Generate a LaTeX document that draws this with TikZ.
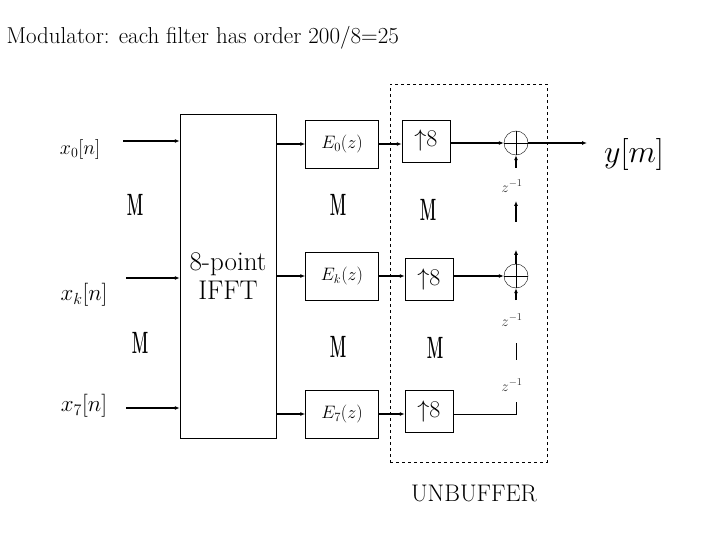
\RequirePackage{fix-cm}
\documentclass[tikz,border=0pt]{standalone}
\usepackage{tikz}
\usetikzlibrary{arrows.meta}
\begin{document}
\begin{tikzpicture}[x=1pt,y=-1pt,
  arr/.style={-{Latex[length=5pt,width=4pt]},line width=1.2pt},
  blk/.style={draw,line width=0.5pt,inner sep=0pt},
  dots/.style={font=\fontsize{22}{22}\selectfont\bfseries,yscale=1.4,xscale=0.7},
  zl/.style={font=\fontsize{15}{15}\selectfont,text=black!80}]
\useasboundingbox (0,0) rectangle (720,540);
\node[anchor=west,font=\fontsize{23}{23}\selectfont] (title) at (3,38) {Modulator: each filter has order 200/8=25};
% IFFT
\node[blk,minimum width=96pt,minimum height=324pt,align=center,font=\fontsize{27}{29}\selectfont] (fft) at (228,276) {8-point\\IFFT};
% inputs
\node[font=\fontsize{20}{20}\selectfont] (x0) at (80,150) {$x_0[n]$};
\node[font=\fontsize{23}{23}\selectfont] (xk) at (84,295) {$x_k[n]$};
\node[font=\fontsize{23}{23}\selectfont] (x7) at (84,406) {$x_7[n]$};
\coordinate (a0) at (123,141); \coordinate (ak) at (126,278); \coordinate (a7) at (126,408);
\draw[arr] (a0) -- (fft.west |- a0);
\draw[arr] (ak) -- (fft.west |- ak);
\draw[arr] (a7) -- (fft.west |- a7);
% polyphase filters
\node[blk,minimum width=73pt,minimum height=48pt,font=\fontsize{18}{18}\selectfont] (e0) at (342,144) {$E_0(z)$};
\node[blk,minimum width=73pt,minimum height=48pt,font=\fontsize{18}{18}\selectfont] (ek) at (342,276) {$E_k(z)$};
\node[blk,minimum width=73pt,minimum height=48pt,font=\fontsize{18}{18}\selectfont] (e7) at (342,414) {$E_7(z)$};
\draw[arr] (fft.east |- e0) -- (e0);
\draw[arr] (fft.east |- ek) -- (ek);
\draw[arr] (fft.east |- e7) -- (e7);
% unbuffer
\node[draw,dashed,minimum width=157pt,minimum height=378pt,inner sep=0pt] (ub) at (468.5,273) {};
\node[font=\fontsize{24}{24}\selectfont] (ubl) at (474,493) {UNBUFFER};
\node[blk,minimum width=48pt,minimum height=42pt,font=\fontsize{24}{24}\selectfont] (u0) at (426,141) {$\uparrow$8};
\node[blk,minimum width=48pt,minimum height=42pt,font=\fontsize{24}{24}\selectfont] (uk) at (429,279) {$\uparrow$8};
\node[blk,minimum width=48pt,minimum height=42pt,font=\fontsize{24}{24}\selectfont] (u7) at (429,411) {$\uparrow$8};
\draw[arr] (e0) -- (u0.west |- e0);
\draw[arr] (ek) -- (uk.west |- ek);
\draw[arr] (e7) -- (u7.west |- e7);
% adders
\node[draw,circle,minimum size=24pt,inner sep=0pt] (s0) at (516,143) {};
\node[draw,circle,minimum size=24pt,inner sep=0pt] (sk) at (516,276) {};
\draw (s0.north) -- (s0.south) (s0.west) -- (s0.east);
\draw (sk.north) -- (sk.south) (sk.west) -- (sk.east);
\draw[arr] (u0.east |- s0) -- (s0);
\draw[arr] (uk.east |- sk) -- (sk);
\node[font=\fontsize{32}{32}\selectfont] (y) at (634,155) {$y[m]$};
\draw[arr] (s0.east) -- (587,143);
% delay chain
\node[zl] (z0) at (512,186) {$z^{-1}$};
\node[zl] (zk) at (512,320) {$z^{-1}$};
\node[zl] (z7) at (512,385) {$z^{-1}$};
\coordinate (c1) at (516,168); \coordinate (c2) at (516,222); \coordinate (c3) at (516,201);
\coordinate (c4) at (516,300); \coordinate (c5) at (516,343); \coordinate (c6) at (516,360);
\coordinate (c7) at (516,402);
\draw[arr] (c1) -- (s0.south);
\draw[arr] (c2) -- (c3);
\draw[arr] (sk.north) -- ++(0,-14);
\draw[arr] (c4) -- (sk.south);
\draw (c5) -- (c6);
\draw (u7.east |- 0,414) -| (c7);
% vertical dots
\node[dots] (m1) at (135,205) {M};
\node[dots] (m2) at (140,343) {M};
\node[dots] (m3) at (338,205) {M};
\node[dots] (m4) at (338,347) {M};
\node[dots] (m5) at (428,210) {M};
\node[dots] (m6) at (435,348) {M};
\end{tikzpicture}
\end{document}
